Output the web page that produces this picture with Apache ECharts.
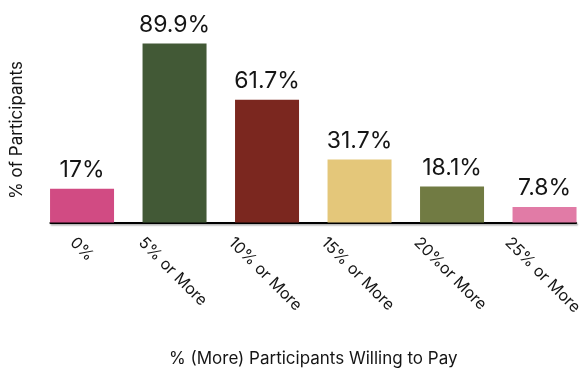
<!DOCTYPE html>
<html>
<head>
<meta charset="utf-8">
<script src="https://cdn.jsdelivr.net/npm/echarts@6/dist/echarts.min.js"></script>
<style>
  html, body { margin: 0; padding: 0; background: #ffffff; }
  #chart { width: 585px; height: 374px; }
</style>
</head>
<body>
<div id="chart"></div>
<script>
// Share of participants willing to pay at least a given premium
const categories = ['0%', '5% or More', '10% or More', '15% or More', '20%or More', '25% or More'];
const shares = [17, 89.9, 61.7, 31.7, 18.1, 7.8];
const barColors = ['#D14B83', '#425936', '#7B271F', '#E4C77A', '#717B43', '#E17BA6'];

const FONT = 'Inter, "Noto Sans", "DejaVu Sans", sans-serif';
const TEXT = '#151515';
const TICK_FONT_SIZE = 16;
const NAME_FONT_SIZE = 17;
const BAR_WIDTH = 64;
// half a bar, in category units: the x range stops at the outer bar edges
const EDGE = 0.341;

const chart = echarts.init(document.getElementById('chart'), null, { renderer: 'canvas' });

// text widths, used to centre each rotated tick label under its bar
const measureCtx = document.createElement('canvas').getContext('2d');
measureCtx.font = TICK_FONT_SIZE + 'px ' + FONT;
const labelWidths = categories.map(c => measureCtx.measureText(c).width);

function buildOption(labelAnchors) {
  return {
    backgroundColor: '#ffffff',
    animation: false,
    grid: { left: 48, right: 4, top: 23.5, bottom: 151.5, containLabel: false },
    xAxis: {
      type: 'value',
      min: -EDGE,
      max: categories.length - 1 + EDGE,
      splitLine: { show: false },
      axisTick: { show: false },
      axisLine: {
        show: true,
        onZero: false,
        lineStyle: {
          color: '#000000', width: 2.2,
          shadowColor: 'rgba(0,0,0,0.35)', shadowBlur: 1.5, shadowOffsetX: 1, shadowOffsetY: 1.5
        }
      },
      axisLabel: {
        show: true,
        customValues: labelAnchors,
        rotate: -45,
        align: 'left',
        verticalAlign: 'top',
        margin: 12,
        color: TEXT,
        fontFamily: FONT,
        fontSize: TICK_FONT_SIZE,
        hideOverlap: false,
        showMinLabel: true,
        showMaxLabel: true,
        formatter: function (value) {
          let best = 0, bestD = Infinity;
          labelAnchors.forEach((a, i) => {
            const d = Math.abs(a - value);
            if (d < bestD) { bestD = d; best = i; }
          });
          return categories[best];
        }
      },
      name: '% (More) Participants Willing to Pay',
      nameLocation: 'middle',
      nameGap: 128,
      nameTextStyle: { color: TEXT, fontFamily: FONT, fontSize: NAME_FONT_SIZE }
    },
    yAxis: {
      type: 'value',
      min: 0,
      max: 100,
      axisLine: { show: false },
      axisTick: { show: false },
      axisLabel: { show: false },
      splitLine: { show: false },
      name: '% of Participants',
      nameLocation: 'middle',
      nameGap: 25.5,
      nameTextStyle: { color: TEXT, fontFamily: FONT, fontSize: NAME_FONT_SIZE, padding: [0, 14, 0, 0] }
    },
    series: [{
      type: 'bar',
      barWidth: BAR_WIDTH,
      data: shares.map((v, i) => ({
        value: [i, v],
        itemStyle: { color: barColors[i] }
      })),
      label: {
        show: true,
        position: 'top',
        distance: 7,
        color: TEXT,
        fontFamily: FONT,
        fontSize: 23,
        formatter: p => shares[p.dataIndex] + '%'
      }
    }]
  };
}

// first pass with labels at the bar centres, then shift each anchor so the
// rotated label's box is centred on its bar
const centres = categories.map((_, i) => i);
chart.setOption(buildOption(centres));
const pxPerUnit = chart.convertToPixel({ xAxisIndex: 0 }, 1) - chart.convertToPixel({ xAxisIndex: 0 }, 0);
const k = Math.SQRT1_2 / 2;
const anchors = labelWidths.map((w, i) => i + (-k * w + k * TICK_FONT_SIZE) / pxPerUnit);
chart.setOption(buildOption(anchors), { notMerge: true });
</script>
</body>
</html>
